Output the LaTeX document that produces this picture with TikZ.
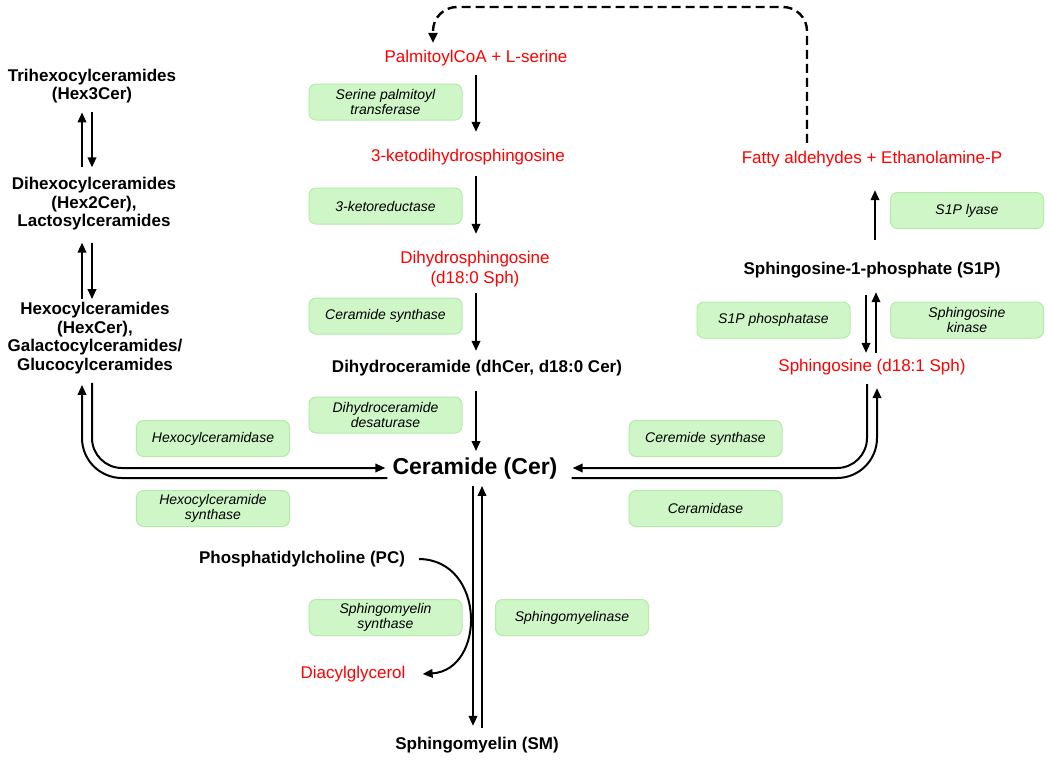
\documentclass[tikz,border=0pt]{standalone}
\usepackage{fontspec}
\setmainfont{Liberation Sans}
\usetikzlibrary{arrows.meta}
\definecolor{boxfill}{RGB}{206,246,198}
\definecolor{boxline}{RGB}{180,234,170}
\definecolor{redtxt}{RGB}{255,0,0}
\begin{document}
\begin{tikzpicture}[x=1pt,y=-1pt,
  lbl/.style={inner sep=0pt, align=center, font=\fontsize{17}{18.5}\selectfont\bfseries},
  rlbl/.style={inner sep=0pt, align=center, text=redtxt, font=\fontsize{17}{20}\selectfont},
  cerlbl/.style={inner sep=0pt, font=\fontsize{23}{26}\selectfont\bfseries},
  enz/.style={draw=boxline, fill=boxfill, line width=1pt, rounded corners=7pt,
    minimum width=153pt, minimum height=36pt, inner sep=1pt, align=center,
    font=\fontsize{14}{15.5}\selectfont\itshape},
  arr/.style={line width=2pt, -{Triangle[length=10pt,width=8.5pt]}},
  dasharr/.style={line width=2.4pt, dash pattern=on 9pt off 5pt, -{Triangle[length=10pt,width=9pt]}}
]
\useasboundingbox (0,0) rectangle (1050,763);

% central column
\node[rlbl] (pal) at (476,58) {PalmitoylCoA + L-serine};
\node[rlbl] (keto) at (468,157) {3-ketodihydrosphingosine};
\node[rlbl] (dhs) at (475,269) {Dihydrosphingosine\\(d18:0 Sph)};
\node[lbl] (dhcer) at (477,368) {Dihydroceramide (dhCer, d18:0 Cer)};
\node[cerlbl] (cer) at (475,469) {Ceramide (Cer)};
\node[lbl] (sm) at (477,745) {Sphingomyelin (SM)};
\node[lbl] (pc) at (302,559) {Phosphatidylcholine (PC)};
\node[rlbl] (dag) at (353,674) {Diacylglycerol};

% left column
\node[lbl] (hex3) at (92,86) {Trihexocylceramides\\(Hex3Cer)};
\node[lbl] (hex2) at (94,204) {Dihexocylceramides\\(Hex2Cer),\\Lactosylceramides};
\node[lbl] (hex1) at (95,338) {Hexocylceramides\\(HexCer),\\Galactocylceramides/\\Glucocylceramides};

% right column
\node[rlbl] (fatty) at (872,159) {Fatty aldehydes + Ethanolamine-P};
\node[lbl] (s1p) at (872,270) {Sphingosine-1-phosphate (S1P)};
\node[rlbl] (sph) at (872,367) {Sphingosine (d18:1 Sph)};

% enzymes
\node[enz] (spt) at (385.5,102) {Serine palmitoyl\\transferase};
\node[enz] (kr) at (385.5,206) {3-ketoreductase};
\node[enz] (cs1) at (385.5,316) {Ceramide synthase};
\node[enz] (dhd) at (385.5,415) {Dihydroceramide\\desaturase};
\node[enz] (hexase) at (213,438.5) {Hexocylceramidase};
\node[enz] (hexsyn) at (213,508.5) {Hexocylceramide\\synthase};
\node[enz] (cs2) at (705.5,438.5) {Ceremide synthase};
\node[enz] (cdase) at (705.5,508.5) {Ceramidase};
\node[enz] (sms) at (385.5,617.5) {Sphingomyelin\\synthase};
\node[enz] (smase) at (572,617.5) {Sphingomyelinase};
\node[enz] (s1pp) at (773.5,320) {S1P phosphatase};
\node[enz] (sk) at (967,320) {Sphingosine\\kinase};
\node[enz] (lyase) at (967,210.5) {S1P lyase};

% helper x positions
\coordinate (xm) at (476,0);
\coordinate (xd) at (473,0);
\coordinate (xu) at (482,0);
\coordinate (hl) at (82,0);
\coordinate (hr) at (92,0);
\coordinate (dR) at (807,0);
\coordinate (dL) at (433,0);
\coordinate (dtop) at (620,7);

% main pathway
\draw[arr, shorten <=9pt, shorten >=17pt] (pal.south -| xm) -- (keto.north -| xm);
\draw[arr, shorten <=11pt, shorten >=17pt] (keto.south -| xm) -- (dhs.north -| xm);
\draw[arr, shorten <=6pt, shorten >=9pt] (dhs.south -| xm) -- (dhcer.north -| xm);
\draw[arr, shorten <=15pt, shorten >=7pt] (dhcer.south -| xm) -- (cer.north -| xm);

% ceramide <-> sphingomyelin
\draw[arr, shorten <=6pt, shorten >=11pt] (cer.south -| xd) -- (sm.north -| xd);
\draw[arr, shorten <=9pt, shorten >=6pt] (sm.north -| xu) -- (cer.south -| xu);

% PC -> DAG
\draw[arr] ([xshift=14pt]pc.east) .. controls (486,560) and (486,670) .. ([xshift=17pt]dag.east);

% left branch
\draw[arr, rounded corners=30pt] ([yshift=-9pt]hex1.south -| hr) |- ([xshift=-7pt,yshift=1pt]cer.west);
\draw[arr, rounded corners=40pt] ([xshift=-5pt,yshift=-9pt]cer.west) -| ([yshift=-11pt]hex1.south -| hl);

% right branch
\draw[arr, rounded corners=30pt] ([xshift=-5pt,yshift=-9pt]sph.south) |- ([xshift=15pt,yshift=1pt]cer.east);
\draw[arr, rounded corners=40pt] ([xshift=14pt,yshift=-9pt]cer.east) -| ([xshift=5pt,yshift=-13pt]sph.south);

% hexosyl ladder
\draw[arr] ([yshift=10pt]hex2.north -| hl) -- ([yshift=-9pt]hex3.south -| hl);
\draw[arr] ([yshift=-9pt]hex3.south -| hr) -- ([yshift=10pt]hex2.north -| hr);
\draw[arr] ([yshift=3pt]hex1.north -| hl) -- ([yshift=-12pt]hex2.south -| hl);
\draw[arr] ([yshift=-12pt]hex2.south -| hr) -- ([yshift=3pt]hex1.north -| hr);

% S1P / sphingosine
\draw[arr] ([xshift=-6pt,yshift=-17pt]s1p.south) -- ([xshift=-6pt,yshift=6pt]sph.north);
\draw[arr] ([xshift=4pt,yshift=6pt]sph.north) -- ([xshift=4pt,yshift=-14pt]s1p.south);
\draw[arr] ([xshift=3pt,yshift=22pt]s1p.north) -- ([xshift=3pt,yshift=-23pt]fatty.south);

% recycling (dashed)
\draw[dasharr, rounded corners=24pt] ([yshift=8pt]fatty.north -| dR) |- (dtop) -| ([yshift=7pt]pal.north -| dL);
\end{tikzpicture}
\end{document}
